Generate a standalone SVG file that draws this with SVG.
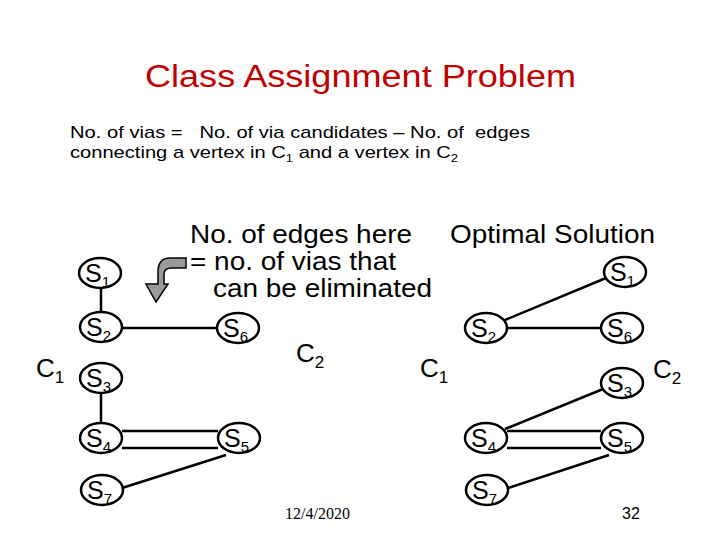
<svg xmlns="http://www.w3.org/2000/svg" width="720" height="540" viewBox="0 0 720 540">
<style>
.n ellipse{fill:#fff;stroke:#000;stroke-width:2.5}
.n text{font-family:"Liberation Sans",Arial,sans-serif;font-size:25px}
.sub{font-size:15px}
.e line{stroke:#000;stroke-width:2.5}
.t{font-family:"Liberation Sans",Arial,sans-serif;fill:#000}
</style>
<rect width="720" height="540" fill="#fff"/>
<text class="t" x="145" y="87" font-size="31" style="fill:#c00000" textLength="431" lengthAdjust="spacingAndGlyphs">Class Assignment Problem</text>
<text class="t" x="70" y="138" font-size="17" xml:space="preserve" textLength="460" lengthAdjust="spacingAndGlyphs">No. of vias =   No. of via candidates – No. of  edges</text>
<text class="t" x="70" y="158" font-size="17" textLength="388" lengthAdjust="spacingAndGlyphs">connecting a vertex in C<tspan font-size="11" dy="4">1</tspan><tspan dy="-4"> and a vertex in C</tspan><tspan font-size="11" dy="4">2</tspan></text>
<text class="t" x="190" y="243" font-size="25" textLength="222" lengthAdjust="spacingAndGlyphs">No. of edges here</text>
<text class="t" x="190" y="270" font-size="25" textLength="206" lengthAdjust="spacingAndGlyphs">= no. of vias that</text>
<text class="t" x="213" y="297" font-size="25" textLength="219" lengthAdjust="spacingAndGlyphs">can be eliminated</text>
<text class="t" x="450" y="243" font-size="25" textLength="205" lengthAdjust="spacingAndGlyphs">Optimal Solution</text>
<path d="M186,258 L170,258 Q158,258 158,272 L158,284 L146,284 L156,302 L168,284 L164,284 L164,274 Q164,268 172,268 L186,268 Z" fill="#999" stroke="#000" stroke-width="1.5"/>
<text class="t" x="36" y="377" font-size="26">C<tspan font-size="17" dy="6">1</tspan></text>
<text class="t" x="296" y="362" font-size="26">C<tspan font-size="17" dy="6">2</tspan></text>
<text class="t" x="420" y="377" font-size="26">C<tspan font-size="17" dy="6">1</tspan></text>
<text class="t" x="653" y="378" font-size="26">C<tspan font-size="17" dy="6">2</tspan></text>
<text x="285" y="519" font-family="Liberation Serif,serif" font-size="16">12/4/2020</text>
<text class="t" x="622" y="519" font-size="16">32</text>
<g id="connectors" class="e">
<line x1="101" y1="288" x2="101" y2="312"/>
<line x1="101" y1="393" x2="101" y2="422"/>
<line x1="122" y1="328" x2="217" y2="328"/>
<line x1="122" y1="431" x2="218" y2="431"/>
<line x1="122" y1="448" x2="218" y2="448"/>
<line x1="122" y1="488" x2="226" y2="455"/>
<line x1="505" y1="320" x2="606" y2="278"/>
<line x1="507" y1="328" x2="601" y2="328"/>
<line x1="505" y1="429" x2="603" y2="389"/>
<line x1="507" y1="431" x2="601" y2="431"/>
<line x1="507" y1="448" x2="601" y2="448"/>
<line x1="508" y1="488" x2="609" y2="455"/>
</g>
<g id="L-S1" class="n"><ellipse cx="100" cy="273" rx="21" ry="15"/><text x="85" y="282">S<tspan class="sub" dy="5">1</tspan></text></g>
<g id="L-S2" class="n"><ellipse cx="101" cy="327" rx="21" ry="15"/><text x="86" y="336">S<tspan class="sub" dy="5">2</tspan></text></g>
<g id="L-S6" class="n"><ellipse cx="238" cy="328" rx="21" ry="15"/><text x="223" y="337">S<tspan class="sub" dy="5">6</tspan></text></g>
<g id="L-S3" class="n"><ellipse cx="101" cy="378" rx="21" ry="15"/><text x="86" y="387">S<tspan class="sub" dy="5">3</tspan></text></g>
<g id="L-S4" class="n"><ellipse cx="101" cy="438" rx="21" ry="15"/><text x="86" y="447">S<tspan class="sub" dy="5">4</tspan></text></g>
<g id="L-S5" class="n"><ellipse cx="239" cy="438" rx="21" ry="15"/><text x="224" y="447">S<tspan class="sub" dy="5">5</tspan></text></g>
<g id="L-S7" class="n"><ellipse cx="102" cy="490" rx="21" ry="15"/><text x="87" y="499">S<tspan class="sub" dy="5">7</tspan></text></g>
<g id="R-S1" class="n"><ellipse cx="625" cy="272" rx="21" ry="15"/><text x="610" y="281">S<tspan class="sub" dy="5">1</tspan></text></g>
<g id="R-S2" class="n"><ellipse cx="486" cy="328" rx="21" ry="15"/><text x="471" y="337">S<tspan class="sub" dy="5">2</tspan></text></g>
<g id="R-S6" class="n"><ellipse cx="622" cy="328" rx="21" ry="15"/><text x="607" y="337">S<tspan class="sub" dy="5">6</tspan></text></g>
<g id="R-S3" class="n"><ellipse cx="622" cy="383" rx="21" ry="15"/><text x="607" y="392">S<tspan class="sub" dy="5">3</tspan></text></g>
<g id="R-S4" class="n"><ellipse cx="486" cy="438" rx="21" ry="15"/><text x="471" y="447">S<tspan class="sub" dy="5">4</tspan></text></g>
<g id="R-S5" class="n"><ellipse cx="622" cy="438" rx="21" ry="15"/><text x="607" y="447">S<tspan class="sub" dy="5">5</tspan></text></g>
<g id="R-S7" class="n"><ellipse cx="487" cy="490" rx="21" ry="15"/><text x="472" y="499">S<tspan class="sub" dy="5">7</tspan></text></g>
</svg>
